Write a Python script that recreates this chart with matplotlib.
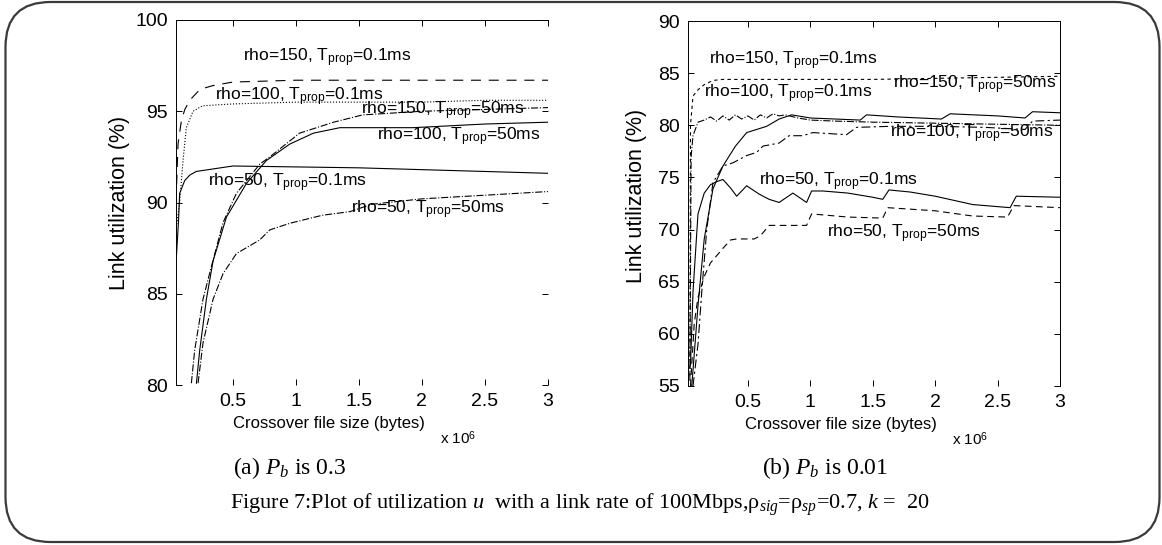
import matplotlib
matplotlib.use("Agg")
from matplotlib import pyplot as plt
from matplotlib.patches import FancyBboxPatch

plt.rcParams['font.family'] = ['Liberation Sans', 'DejaVu Sans']
plt.rcParams['mathtext.fontset'] = 'custom'
plt.rcParams['mathtext.rm'] = 'Liberation Sans'
plt.rcParams['mathtext.it'] = 'Liberation Serif:italic'

# ---- (a) Pb = 0.3 ----
a_r150_01_x = [0.05, 0.066, 0.093, 0.12, 0.159, 0.24, 0.34, 0.5, 1.0, 1.5, 2.0, 2.5, 3.0]
a_r150_01_y = [90.0, 93.2, 94.5, 95.1, 95.6, 96.2, 96.4, 96.6, 96.7, 96.7, 96.7, 96.7, 96.7]
a_r100_01_x = [0.05, 0.079, 0.106, 0.132, 0.185, 0.26, 0.5, 1.0, 1.5, 2.0, 2.5, 3.0]
a_r100_01_y = [88.5, 90.0, 92.3, 94.1, 95.0, 95.3, 95.4, 95.5, 95.5, 95.5, 95.6, 95.6]
a_r50_01_x = [0.053, 0.07, 0.079, 0.119, 0.159, 0.21, 0.5, 1.0, 1.5, 2.0, 2.5, 3.0]
a_r50_01_y = [87.0, 89.0, 90.5, 91.2, 91.5, 91.7, 92.0, 91.95, 91.9, 91.8, 91.7, 91.6]
a_r150_50_x = [0.172, 0.198, 0.264, 0.331, 0.423, 0.529, 0.714, 0.794, 1.03, 1.3, 1.53, 2.0, 2.5, 3.0]
a_r150_50_y = [80.1, 81.9, 84.7, 86.5, 88.9, 90.5, 92.1, 92.5, 93.8, 94.4, 94.8, 95.0, 95.1, 95.2]
a_r100_50_x = [0.212, 0.238, 0.291, 0.344, 0.45, 0.609, 0.767, 0.952, 1.14, 1.35, 1.93, 2.5, 3.0]
a_r100_50_y = [80.1, 81.9, 84.7, 86.8, 89.2, 91.05, 92.3, 93.2, 93.8, 94.1, 94.1, 94.3, 94.4]
a_r50_50_x = [0.225, 0.264, 0.344, 0.423, 0.529, 0.714, 0.794, 0.952, 1.21, 1.43, 1.6, 2.0, 2.5, 3.0]
a_r50_50_y = [80.1, 82.3, 84.7, 86.1, 87.2, 87.95, 88.5, 88.86, 89.3, 89.5, 89.9, 90.2, 90.4, 90.6]

# ---- (b) Pb = 0.01 ----
b_r150_01_x = [0.035, 0.04, 0.06, 0.1, 0.15, 0.22, 0.3, 0.5, 1.0, 1.5, 2.0, 2.5, 3.0]
b_r150_01_y = [56.0, 80.0, 82.8, 83.4, 83.9, 84.3, 84.4, 84.4, 84.4, 84.4, 84.5, 84.6, 84.7]
b_r100_01_x = [0.035, 0.045, 0.06, 0.1, 0.15, 0.2, 0.25, 0.3, 0.35, 0.4, 0.45, 0.5, 0.55,
               0.6, 0.65, 0.7, 0.75, 0.8, 0.9, 1.0, 1.2, 1.5, 2.0, 2.5, 3.0]
b_r100_01_y = [55.5, 77.0, 79.0, 80.3, 80.5, 80.8, 80.4, 80.9, 80.5, 81.0, 80.6, 80.9, 80.5,
               81.0, 80.7, 81.1, 80.9, 81.0, 80.7, 80.5, 80.4, 80.3, 80.2, 80.1, 80.0]
b_r150_50_x = [0.05, 0.06, 0.1, 0.15, 0.22, 0.3, 0.4, 0.49, 0.65, 0.75, 0.85, 1.0, 1.2, 1.4,
               1.45, 1.7, 2.05, 2.12, 2.5, 2.72, 2.78, 3.0]
b_r150_50_y = [55.0, 56.5, 62.7, 69.1, 73.9, 76.1, 78.0, 79.3, 79.9, 80.6, 81.0, 80.7, 80.6, 80.5,
               81.0, 80.8, 80.6, 81.1, 80.9, 80.7, 81.3, 81.2]
b_r100_50_x = [0.06, 0.1, 0.13, 0.17, 0.22, 0.3, 0.38, 0.49, 0.57, 0.62, 0.75, 0.83, 0.94, 1.02,
               1.29, 1.37, 1.64, 2.0, 2.4, 2.72, 2.78, 3.0]
b_r100_50_y = [55.0, 59.0, 64.0, 70.0, 74.5, 76.1, 76.4, 77.1, 77.4, 78.0, 78.3, 79.0, 79.0, 79.3,
               79.1, 79.8, 79.9, 79.9, 79.8, 79.6, 80.4, 80.5]
b_r50_01_x = [0.04, 0.06, 0.1, 0.15, 0.2, 0.25, 0.3, 0.36, 0.41, 0.49, 0.59, 0.67, 0.75, 0.86,
              0.97, 1.01, 1.1, 1.3, 1.5, 1.58, 1.63, 1.8, 2.0, 2.3, 2.6, 2.65, 3.0]
b_r50_01_y = [57.0, 64.0, 71.5, 73.5, 74.3, 74.6, 74.8, 74.0, 73.2, 74.2, 73.4, 72.9, 72.6, 73.5,
              72.6, 73.7, 73.7, 73.5, 73.1, 72.9, 73.8, 73.6, 73.2, 72.4, 72.1, 73.2, 73.1]
b_r50_50_x = [0.04, 0.05, 0.07, 0.1, 0.15, 0.2, 0.25, 0.3, 0.36, 0.41, 0.55, 0.6, 0.67, 0.75,
              0.97, 1.01, 1.3, 1.58, 1.62, 2.0, 2.3, 2.58, 2.63, 3.0]
b_r50_50_y = [55.0, 57.0, 61.0, 63.5, 65.5, 66.8, 67.5, 68.2, 69.0, 69.1, 69.1, 69.4, 70.4, 70.4,
              70.4, 71.5, 71.2, 71.1, 72.1, 71.8, 71.3, 71.2, 72.3, 72.1]

x_ticks = [0.5, 1, 1.5, 2, 2.5, 3]
x_tick_labels = ["0.5", "1", "1.5", "2", "2.5", "3"]
a_y_ticks = [80, 85, 90, 95, 100]
b_y_ticks = [55, 60, 65, 70, 75, 80, 85, 90]

label_names = ["rho=150, T$_{\\mathrm{prop}}$=0.1ms", "rho=100, T$_{\\mathrm{prop}}$=0.1ms",
               "rho=150, T$_{\\mathrm{prop}}$=50ms", "rho=100, T$_{\\mathrm{prop}}$=50ms",
               "rho=50, T$_{\\mathrm{prop}}$=0.1ms", "rho=50, T$_{\\mathrm{prop}}$=50ms"]
a_label_x = [0.58, 0.36, 1.52, 1.64, 0.30, 1.44]
a_label_y = [97.9, 95.8, 95.0, 93.6, 91.1, 89.6]
b_label_x = [0.19, 0.15, 1.66, 1.64, 0.59, 1.13]
b_label_y = [86.2, 83.0, 83.9, 79.2, 74.6, 69.6]

W, H = 1162, 545
fig = plt.figure(figsize=(W / 100, H / 100), dpi=100)

# rounded frame round the whole figure
bg = fig.add_axes([0, 0, 1, 1])
bg.set_xlim(0, W)
bg.set_ylim(H, 0)
bg.axis("off")
bg.add_patch(FancyBboxPatch((5.5, 2), 1154, 540, boxstyle="round,pad=0,rounding_size=45",
                            fill=False, edgecolor="#3a3a3a", linewidth=1.6))


def px_axes(x0, x1, y0, y1):
    return fig.add_axes([x0 / W, 1 - y1 / H, (x1 - x0) / W, (y1 - y0) / H])


ax_a = px_axes(176, 548, 20, 385)
ax_b = px_axes(688, 1060, 21, 386)

lw = 0.8
ax_a.plot(a_r150_01_x, a_r150_01_y, color="k", lw=lw, dashes=(9, 7))
ax_a.plot(a_r100_01_x, a_r100_01_y, color="k", lw=lw, linestyle=":")
ax_a.plot(a_r50_01_x, a_r50_01_y, color="k", lw=lw, linestyle="-")
ax_a.plot(a_r150_50_x, a_r150_50_y, color="k", lw=lw, linestyle="-.")
ax_a.plot(a_r100_50_x, a_r100_50_y, color="k", lw=lw, linestyle="-")
ax_a.plot(a_r50_50_x, a_r50_50_y, color="k", lw=lw, linestyle="-.")

ax_b.plot(b_r150_01_x, b_r150_01_y, color="k", lw=lw, dashes=(3, 3))
ax_b.plot(b_r100_01_x, b_r100_01_y, color="k", lw=lw, linestyle="-.")
ax_b.plot(b_r150_50_x, b_r150_50_y, color="k", lw=lw, linestyle="-")
ax_b.plot(b_r100_50_x, b_r100_50_y, color="k", lw=lw, dashes=(8, 3, 2, 3))
ax_b.plot(b_r50_01_x, b_r50_01_y, color="k", lw=lw, linestyle="-")
ax_b.plot(b_r50_50_x, b_r50_50_y, color="k", lw=lw, dashes=(6, 4))

for ax, ylo, yhi, xlo, yt, lx, ly in [(ax_a, 80, 100, 0.05, a_y_ticks, a_label_x, a_label_y),
                                      (ax_b, 55, 90, 0.02, b_y_ticks, b_label_x, b_label_y)]:
    ax.set_xlim(xlo, 3)
    ax.set_ylim(ylo, yhi)
    ax.set_xticks(x_ticks)
    ax.set_xticklabels(x_tick_labels)
    ax.set_yticks(yt)
    ax.tick_params(direction="in", top=True, right=True, length=4, width=0.7,
                   labelsize=14, pad=6)
    for s in ax.spines.values():
        s.set_linewidth(0.7)
    ax.spines["bottom"].set_visible(False)
    ax.set_xlabel("Crossover file size (bytes)", fontsize=12)
    ax.xaxis.set_label_coords(0.41, -0.085)
    ax.set_ylabel("Link utilization (%)", fontsize=15.5)
    ax.text(0.71, -0.145, "x 10$^{6}$", transform=ax.transAxes, fontsize=11, va="center")
    for name, tx, ty in zip(label_names, lx, ly):
        ax.text(tx, ty, name, fontsize=12.5, va="center", ha="left", clip_on=False)
ax_a.spines["right"].set_visible(False)
ax_a.yaxis.set_label_coords(-0.125, 0.5)
ax_b.yaxis.set_label_coords(-0.11, 0.52)

fig.text(290 / W, 1 - 468 / H, "(a) $P_b$ is 0.3", family="Liberation Serif", fontsize=17,
         ha="center", va="center")
fig.text(825 / W, 1 - 468 / H, "(b) $P_b$ is 0.01", family="Liberation Serif", fontsize=17,
         ha="center", va="center")
fig.text(580 / W, 1 - 505 / H,
         "Figure 7:Plot of utilization $u$  with a link rate of 100Mbps,\u03c1$_{sig}$=\u03c1$_{sp}$=0.7, $k$ =  20",
         family="Liberation Serif", fontsize=16, ha="center", va="center")

fig.savefig("out.png", dpi=100)
